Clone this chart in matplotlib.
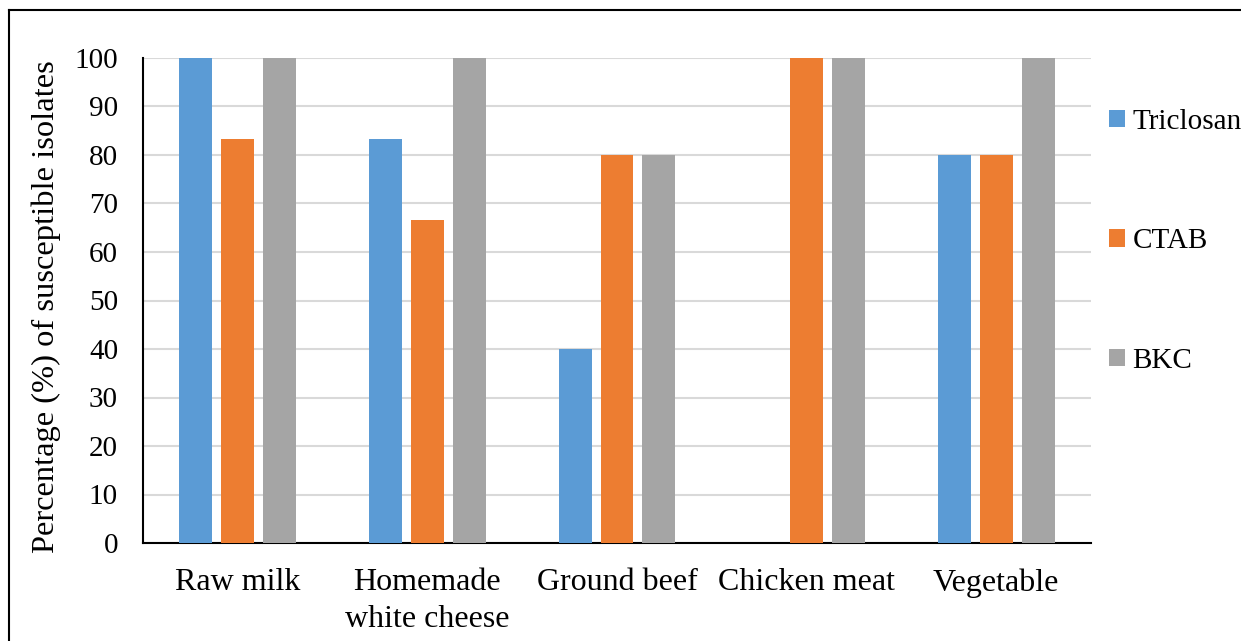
import matplotlib.pyplot as plt
import numpy as np
from matplotlib.patches import Patch

plt.rcParams['font.family'] = ['Liberation Serif', 'DejaVu Serif']

categories = ['Raw milk', 'Homemade\nwhite cheese', 'Ground beef', 'Chicken meat', 'Vegetable']
series = ['Triclosan', 'CTAB', 'BKC']
triclosan = [100, 83.3, 40, 0, 80]
ctab = [83.3, 66.7, 80, 100, 80]
bkc = [100, 100, 80, 100, 100]
colors = ['#5B9BD5', '#ED7D31', '#A5A5A5']

fig = plt.figure(figsize=(12.41, 6.41), dpi=100)
ax = fig.add_axes([143/1241, 1 - 543/641, (1091-143)/1241, (543-58)/641])

x = np.arange(len(categories))
w = 0.174
step = 0.221
for i, (vals, c) in enumerate(zip([triclosan, ctab, bkc], colors)):
    ax.bar(x + (i - 1) * step, vals, w, color=c, zorder=3)

ax.set_xlim(-0.5, len(categories) - 0.5)
ax.set_ylim(0, 100)
ax.set_yticks(range(0, 101, 10))
ax.yaxis.grid(True, color='#D9D9D9', linewidth=1.5, zorder=0)
ax.set_xticks(x)
ax.set_xticklabels(categories, fontsize=23, linespacing=1.35)
ax.tick_params(axis='y', labelsize=21, length=0, pad=18)
ax.tick_params(axis='x', length=0, pad=18)
for s in ['top', 'right']:
    ax.spines[s].set_visible(False)
ax.spines['left'].set_linewidth(1.5)
ax.spines['bottom'].set_linewidth(1.5)
fig.text(46/1241, 1 - 307/641, 'Percentage (%) of susceptible isolates', fontsize=23.4,
         rotation=90, ha='center', va='center')

handles = [Patch(facecolor=c) for c in colors]
fig.legend(handles, series, loc='upper left', bbox_to_anchor=(1109/1241, 1 - 109/641),
           frameon=False, fontsize=21, labelspacing=3.2, handlelength=0.55,
           handleheight=0.55, handletextpad=0.25, borderaxespad=0, borderpad=0)

# figure border (top and left visible in the reference)
fig.add_artist(plt.Line2D([9/1241, 9/1241], [0, 1 - 10/641], color='black', lw=1.5))
fig.add_artist(plt.Line2D([9/1241, 1], [1 - 10/641, 1 - 10/641], color='black', lw=1.5))

fig.savefig('out.png', dpi=100)
